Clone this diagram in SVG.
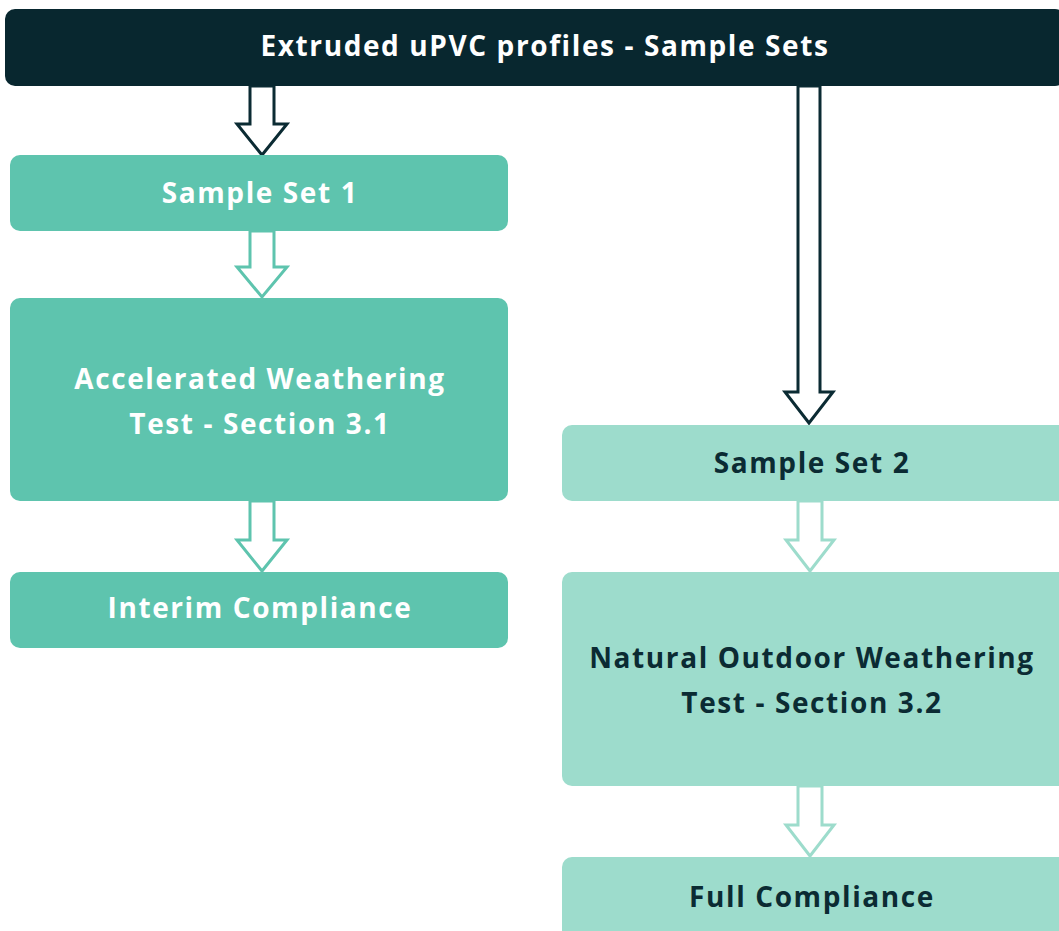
<svg xmlns="http://www.w3.org/2000/svg" width="1059" height="931" viewBox="0 0 1059 931">
<style>
.t{font-family:"Open Sans","Liberation Sans",sans-serif;font-weight:700;font-size:28px;letter-spacing:1.6px;text-anchor:middle}
.w{fill:#ffffff}
.d{fill:#0b2b33}
.a{fill:#ffffff;stroke-width:3;stroke-linejoin:miter}
</style>
<rect width="1059" height="931" fill="#ffffff"/>
<g id="connectors">
<polygon class="a" stroke="#0b2b33" points="250,86 274,86 274,124 287,124 262,155 237,124 250,124"/>
<polygon class="a" stroke="#0b2b33" points="798,86 820,86 820,392 833,392 809,423 785,392 798,392"/>
<polygon class="a" stroke="#5ec4ae" points="250,231 274,231 274,267 287,267 262,297 237,267 250,267"/>
<polygon class="a" stroke="#5ec4ae" points="250,501 274,501 274,540 287,540 262,571 237,540 250,540"/>
<polygon class="a" stroke="#9ddccc" points="798,501 822,501 822,540 834,540 810,571 786,540 798,540"/>
<polygon class="a" stroke="#9ddccc" points="798,786 822,786 822,825 834,825 810,856 786,825 798,825"/>
</g>
<g id="n0"><rect x="5" y="9" width="1060" height="77" rx="10" fill="#08272f"/><text class="t w" x="545" y="56">Extruded uPVC profiles - Sample Sets</text></g>
<g id="n1"><rect x="10" y="155" width="498" height="76" rx="10" fill="#5ec4ae"/><text class="t w" x="260" y="203">Sample Set 1</text></g>
<g id="n2"><rect x="10" y="298" width="498" height="203" rx="10" fill="#5ec4ae"/><text class="t w" x="260" y="389">Accelerated Weathering</text><text class="t w" x="260" y="434">Test - Section 3.1</text></g>
<g id="n3"><rect x="10" y="572" width="498" height="76" rx="10" fill="#5ec4ae"/><text class="t w" x="260" y="618">Interim Compliance</text></g>
<g id="n4"><rect x="562" y="425" width="507" height="76" rx="10" fill="#9ddccc"/><text class="t d" x="812" y="473">Sample Set 2</text></g>
<g id="n5"><rect x="562" y="572" width="507" height="214" rx="10" fill="#9ddccc"/><text class="t d" x="812" y="668">Natural Outdoor Weathering</text><text class="t d" x="812" y="713">Test - Section 3.2</text></g>
<g id="n6"><rect x="562" y="857" width="507" height="90" rx="10" fill="#9ddccc"/><text class="t d" x="812" y="907">Full Compliance</text></g>
</svg>
